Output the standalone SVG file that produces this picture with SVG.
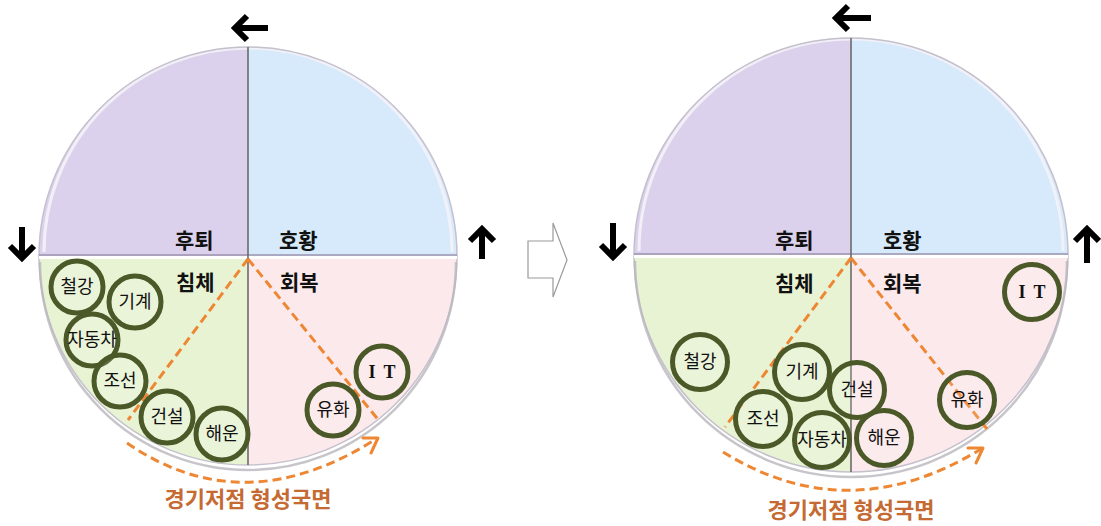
<svg xmlns="http://www.w3.org/2000/svg" width="1101" height="526" viewBox="0 0 1101 526">
<style>
.bg{fill:#ffffff}
.q1{fill:#dcd1ec}
.q2{fill:#d6eafb}
.q3{fill:#e8f3d4}
.q4{fill:#fce9eb}
.rim{fill:none;stroke:#c4c0cc;stroke-width:1.5}
.rimBot{fill:none;stroke:#b9b6bd;stroke-width:2.5;opacity:0.8}
.rimTop{fill:none;stroke:#f4f2f8;stroke-width:3;opacity:0.9}
.vline{stroke:#6b6b6b;stroke-width:1.6}
.hline{stroke:#9d92ae;stroke-width:1.6}
.gap{stroke:#ffffff;stroke-width:3}
.dash{fill:none;stroke:#ee8733;stroke-width:3;stroke-dasharray:9 5}
.arc{fill:none;stroke:#ee8733;stroke-width:3;stroke-dasharray:9 5}
.ah{fill:none;stroke:#ee8733;stroke-width:3;stroke-linecap:round;stroke-linejoin:round}
.blk{fill:none;stroke:#000;stroke-width:6;stroke-linecap:butt;stroke-linejoin:miter}
.node{fill:#ffffff;fill-opacity:0.12;stroke:#4a5927;stroke-width:5}
.nt{font-family:"Noto Sans CJK KR","Noto Sans",sans-serif;font-size:18px;fill:#111;text-anchor:middle}
.it{font-family:"Liberation Serif",serif;font-size:18px;font-weight:bold;fill:#111;text-anchor:middle;word-spacing:4px}
.lab{font-family:"Noto Sans CJK KR","Noto Sans",sans-serif;font-size:21px;font-weight:bold;fill:#111}
.cap{font-family:"Noto Sans CJK KR","Noto Sans",sans-serif;font-size:22px;font-weight:bold;fill:#c46a32;text-anchor:middle}
.barrow{fill:#ffffff;stroke:#9a9a9a;stroke-width:1.2}
</style>
<rect class="bg" x="0" y="0" width="1101" height="526"/>

<!-- LEFT DIAGRAM -->
<g id="left-wheel">
  <path class="q3" d="M39,257 L248,257 L248,465 A209,209 0 0 1 39,257 Z"/>
  <path class="q4" d="M248,257 L457,257 A209,209 0 0 1 248,465 Z"/>
  <path class="q1" d="M39,256 A209,209 0 0 1 248,47 L248,256 Z"/>
  <path class="q2" d="M248,47 A209,209 0 0 1 457,256 L248,256 Z"/>
  <path class="rimTop" d="M44,252 A204,204 0 0 1 452,252"/>
  <circle class="rim" cx="248" cy="256" r="209"/>
  <path class="rimBot" d="M40,262 A208,208 0 0 0 456,262"/>
  <line class="hline" x1="39" y1="255" x2="457" y2="255"/>
  <line class="gap" x1="39" y1="257.5" x2="457" y2="257.5"/>
  <line class="vline" x1="248" y1="47" x2="248" y2="465"/>
  <text class="lab" x="175" y="248">후퇴</text>
  <text class="lab" x="279" y="248">호황</text>
  <text class="lab" x="176" y="290">침체</text>
  <text class="lab" x="280" y="290">회복</text>
</g>
<g id="left-arrows">
  <path class="blk" d="M268,28 L236,28 M247,16 L235,28 L247,40"/>
  <path class="blk" d="M22,227 L22,258 M10,246 L22,258 L34,246"/>
  <path class="blk" d="M482,259 L482,229 M470,241 L482,229 L494,241"/>
</g>
<g id="left-connectors">
  <line class="dash" x1="248" y1="259" x2="128" y2="420"/>
  <line class="dash" x1="248" y1="259" x2="380" y2="422"/>
  <path class="arc" d="M127,443 Q243.5,523.5 376,439"/>
  <path class="ah" d="M363,438 L378,438 L371,453"/>
</g>
<g id="L-steel"><circle class="node" cx="77" cy="287" r="26"/><text class="nt" x="77" y="293">철강</text></g>
<g id="L-machine"><circle class="node" cx="135" cy="302" r="26"/><text class="nt" x="135" y="308">기계</text></g>
<g id="L-auto"><circle class="node" cx="92" cy="340" r="26"/><text class="nt" x="92" y="346">자동차</text></g>
<g id="L-ship"><circle class="node" cx="120" cy="381" r="26"/><text class="nt" x="120" y="387">조선</text></g>
<g id="L-constr"><circle class="node" cx="167" cy="417" r="26"/><text class="nt" x="167" y="423">건설</text></g>
<g id="L-marine"><circle class="node" cx="222" cy="434" r="26"/><text class="nt" x="222" y="440">해운</text></g>
<g id="L-petro"><circle class="node" cx="333" cy="410" r="26"/><text class="nt" x="333" y="416">유화</text></g>
<g id="L-it"><circle class="node" cx="382" cy="372" r="26"/><text class="it" x="382" y="378">I T</text></g>
<text class="cap" x="248" y="507">경기저점 형성국면</text>

<!-- MIDDLE BLOCK ARROW -->
<g id="transition-arrow">
  <path class="barrow" d="M528,241 L553,241 L553,223 L567,260 L553,297 L553,278 L528,278 Z"/>
</g>

<!-- RIGHT DIAGRAM -->
<g id="right-wheel">
  <path class="q3" d="M634,256 L851,256 L851,472 A217,217 0 0 1 634,256 Z"/>
  <path class="q4" d="M851,256 L1068,256 A217,217 0 0 1 851,472 Z"/>
  <path class="q1" d="M634,255 A217,217 0 0 1 851,38 L851,255 Z"/>
  <path class="q2" d="M851,38 A217,217 0 0 1 1068,255 L851,255 Z"/>
  <path class="rimTop" d="M639,251 A212,212 0 0 1 1063,251"/>
  <circle class="rim" cx="851" cy="255" r="217"/>
  <path class="rimBot" d="M635,261 A216,216 0 0 0 1067,261"/>
  <line class="hline" x1="634" y1="254" x2="1068" y2="254"/>
  <line class="gap" x1="634" y1="256.5" x2="1068" y2="256.5"/>
  <line class="vline" x1="851" y1="38" x2="851" y2="472"/>
  <text class="lab" x="775" y="248">후퇴</text>
  <text class="lab" x="883" y="248">호황</text>
  <text class="lab" x="775" y="291">침체</text>
  <text class="lab" x="883" y="291">회복</text>
</g>
<g id="right-arrows">
  <path class="blk" d="M871,18 L837,18 M848,6 L836,18 L848,30"/>
  <path class="blk" d="M613,223 L613,257 M601,245 L613,257 L625,245"/>
  <path class="blk" d="M1087,263 L1087,229 M1075,241 L1087,229 L1099,241"/>
</g>
<g id="right-connectors">
  <line class="dash" x1="851" y1="258" x2="725" y2="427"/>
  <line class="dash" x1="851" y1="258" x2="987" y2="429"/>
  <path class="arc" d="M723,452 Q849,530 981,449"/>
  <path class="ah" d="M968,448 L983,448 L976,463"/>
</g>
<g id="R-steel"><circle class="node" cx="700" cy="362" r="27.5"/><text class="nt" x="700" y="368">철강</text></g>
<g id="R-machine"><circle class="node" cx="802" cy="372" r="27.5"/><text class="nt" x="802" y="378">기계</text></g>
<g id="R-constr"><circle class="node" cx="857" cy="390" r="27.5"/><text class="nt" x="857" y="396">건설</text></g>
<g id="R-ship"><circle class="node" cx="763" cy="419" r="27.5"/><text class="nt" x="763" y="425">조선</text></g>
<g id="R-auto"><circle class="node" cx="822" cy="440" r="27.5"/><text class="nt" x="822" y="446">자동차</text></g>
<g id="R-marine"><circle class="node" cx="884" cy="438" r="27.5"/><text class="nt" x="884" y="444">해운</text></g>
<g id="R-petro"><circle class="node" cx="967" cy="400" r="27.5"/><text class="nt" x="967" y="406">유화</text></g>
<g id="R-it"><circle class="node" cx="1032" cy="292" r="27.5"/><text class="it" x="1032" y="298">I T</text></g>
<text class="cap" x="851" y="518">경기저점 형성국면</text>
</svg>
